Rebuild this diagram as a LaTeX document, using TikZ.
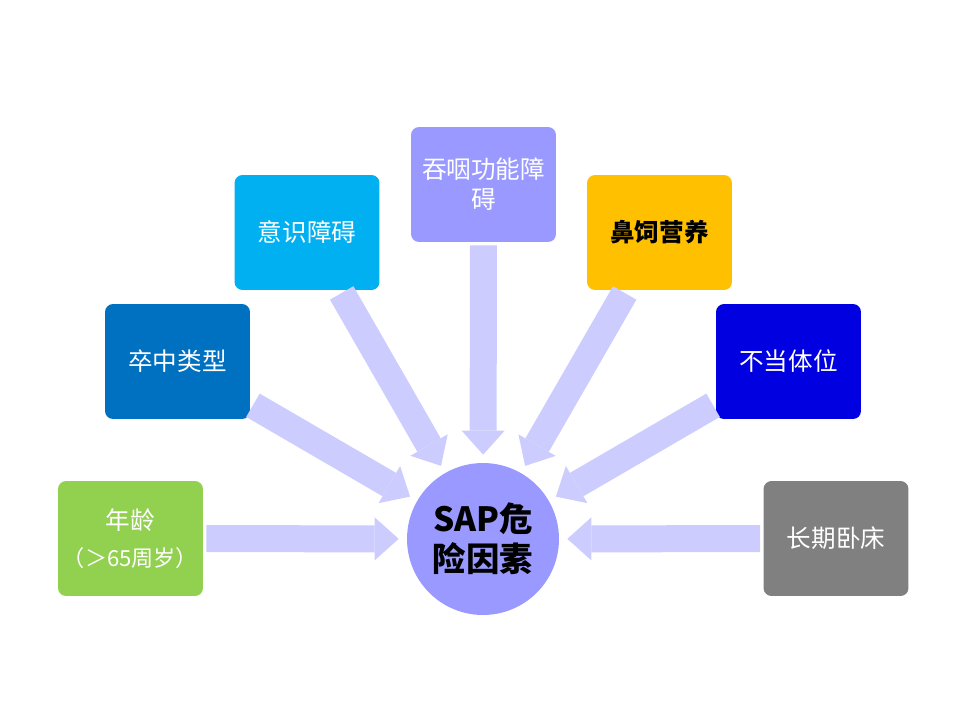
\documentclass[tikz,border=0pt]{standalone}
\usepackage{fontspec}
\setmainfont{Noto Sans CJK SC}
\usetikzlibrary{arrows.meta}
\usetikzlibrary{positioning}

\definecolor{agegreen}{HTML}{92D050}
\definecolor{strokeblue}{HTML}{0070C0}
\definecolor{mindcyan}{HTML}{00B0F0}
\definecolor{swallowlilac}{HTML}{9999FF}
\definecolor{feedorange}{HTML}{FFC000}
\definecolor{postureblue}{HTML}{0000E0}
\definecolor{bedgray}{HTML}{808080}
\definecolor{arrowlilac}{HTML}{CCCCFF}

\begin{document}
\begin{tikzpicture}[x=0.02cm,y=-0.02cm]
 \coordinate (origo) at (0,0);
 \useasboundingbox (origo) rectangle (960,720);

\tikzstyle{factor}=[rounded corners=0.16cm,minimum width=2.9cm,minimum height=2.3cm,inner sep=0pt,align=center,text=white,font=\fontsize{14pt}{17pt}\selectfont]

\tikzstyle{bigarrow}=[draw=arrowlilac,line width=0.54cm,-{Triangle[length=0.48cm,width=0.86cm,line width=0pt]},shorten <=0.06cm,shorten >=0.16cm]

   %centre
   \node (sap) [circle,fill=swallowlilac,minimum size=3.04cm,inner sep=0pt,align=center,font=\fontsize{19pt}{23pt}\selectfont\bfseries] at (483,539) {SAP危\\险因素};

   %risk factors
   \node (age) [factor,fill=agegreen,text width=2.9cm] at (130.5,538.5) {年龄\\[4pt]{\fontsize{12.6pt}{17pt}\selectfont（＞65周岁）}};
   \node (stroke_type) [factor,fill=strokeblue] at (177.5,361.5) {卒中类型};
   \node (mind) [factor,fill=mindcyan] at (307,232.5) {意识障碍};
   \node (swallow) [factor,fill=swallowlilac] at (483.5,184.5) {吞咽功能障\\碍};
   \node (tube_feed) [factor,fill=feedorange,text=black,font=\fontsize{14pt}{17pt}\selectfont\bfseries] at (659.5,232.5) {鼻饲营养};
   \node (posture) [factor,fill=postureblue] at (788.5,361.5) {不当体位};
   \node (bed) [factor,fill=bedgray] at (836,538.5) {长期卧床};

   %arrows into the centre
   \draw [bigarrow] (age) -- (sap);
   \draw [bigarrow] (stroke_type) -- (sap);
   \draw [bigarrow] (mind) -- (sap);
   \draw [bigarrow] (swallow) -- (sap);
   \draw [bigarrow] (tube_feed) -- (sap);
   \draw [bigarrow] (posture) -- (sap);
   \draw [bigarrow] (bed) -- (sap);

\end{tikzpicture}
\end{document}
